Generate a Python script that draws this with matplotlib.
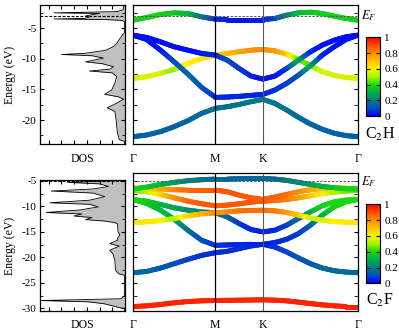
import numpy as np
import matplotlib
matplotlib.use("Agg")
import matplotlib.pyplot as plt
from matplotlib.collections import LineCollection
from matplotlib.colors import LinearSegmentedColormap, Normalize
from matplotlib.cm import ScalarMappable
from matplotlib.ticker import MultipleLocator

plt.rcParams['font.family'] = ['Liberation Serif', 'DejaVu Serif']
plt.rcParams['mathtext.fontset'] = 'stix'

# k-path (Gamma - M - K - Gamma), positions of the sampled points
k = [0, 0.144, 0.289, 0.433, 0.577, 0.722, 0.866,
     0.991, 1.116, 1.241, 1.366,
     1.491, 1.616, 1.741, 1.866, 1.991, 2.116, 2.241, 2.366]
k_ticks = [0, 0.866, 1.366, 2.366]
k_labels = ['Γ', 'M', 'K', 'Γ']

# ---- C2H bands (energy, weight) ----------------------------------------
ch_e = {
    'a':  [-22.72, -22.45, -21.90, -21.09, -20.11, -18.91, -18.10, -17.83, -17.45, -17.01, -16.63,
           -17.28, -18.37, -19.57, -20.65, -21.52, -22.17, -22.55, -22.72],
    'y':  [-13.21, -12.93, -12.39, -11.74, -10.76, -9.95, -9.40, -9.13, -8.86, -8.59, -8.48,
           -8.70, -9.24, -10.11, -11.14, -12.12, -12.72, -13.04, -13.21],
    'c1': [-6.14, -6.52, -7.23, -8.04, -8.59, -9.13, -9.40, -10.22, -11.58, -12.83, -13.32,
           -12.83, -11.58, -10.22, -8.86, -7.77, -6.96, -6.41, -6.14],
    'c2': [-6.14, -6.85, -8.59, -10.49, -12.50, -14.67, -16.30, -16.25, -16.14, -15.98, -15.82,
           -15.11, -14.02, -12.66, -11.14, -9.40, -8.04, -6.85, -6.14],
    'b':  [-3.70, -3.26, -2.77, -2.50, -2.61, -3.15, -3.53, -3.59, -3.59, -3.59, -3.59,
           -3.42, -2.88, -2.50, -2.39, -2.61, -3.04, -3.42, -3.70],
}
ch_w = {
    'a':  [0.14, 0.14, 0.14, 0.14, 0.15, 0.16, 0.17, 0.17, 0.18, 0.18, 0.19,
           0.18, 0.17, 0.16, 0.15, 0.14, 0.14, 0.14, 0.14],
    'y':  [0.55, 0.56, 0.56, 0.48, 0.60, 0.63, 0.66, 0.70, 0.74, 0.78, 0.80,
           0.78, 0.70, 0.45, 0.45, 0.55, 0.55, 0.55, 0.55],
    'c1': [0.02, 0.02, 0.02, 0.02, 0.02, 0.03, 0.05, 0.10, 0.08, 0.05, 0.03,
           0.03, 0.05, 0.30, 0.05, 0.02, 0.02, 0.02, 0.02],
    'c2': [0.02, 0.02, 0.02, 0.10, 0.15, 0.12, 0.06, 0.05, 0.05, 0.05, 0.05,
           0.06, 0.08, 0.10, 0.30, 0.05, 0.03, 0.02, 0.02],
    'b':  [0.38, 0.38, 0.38, 0.36, 0.33, 0.20, 0.06, 0.04, 0.03, 0.03, 0.04,
           0.08, 0.20, 0.32, 0.36, 0.38, 0.38, 0.38, 0.38],
}

# ---- C2F bands ----------------------------------------------------------
cf_e = {
    'p8': [-29.63, -29.49, -29.23, -28.90, -28.64, -28.51, -28.44, -28.41, -28.38, -28.35, -28.31,
           -28.38, -28.51, -28.77, -29.04, -29.30, -29.49, -29.63, -29.63],
    'p7': [-23.00, -22.74, -22.08, -21.23, -20.37, -19.59, -19.06, -18.80, -18.27, -17.75, -17.42,
           -17.95, -18.93, -20.11, -21.23, -22.08, -22.61, -22.87, -23.00],
    'p6': [-8.63, -9.42, -10.73, -12.50, -14.67, -16.63, -17.62, -17.55, -17.49, -17.42, -17.42,
           -17.09, -16.44, -15.32, -13.67, -11.71, -10.07, -9.09, -8.63],
    'p4': [-8.63, -8.96, -9.61, -10.27, -10.73, -11.06, -11.25, -12.04, -13.35, -14.53, -14.99,
           -14.67, -13.67, -12.36, -11.06, -9.88, -9.09, -8.76, -8.63],
    'p5': [-13.16, -13.02, -12.76, -12.37, -11.84, -11.45, -11.25, -11.06, -10.86, -10.79, -10.73,
           -10.86, -11.19, -11.71, -12.24, -12.70, -12.96, -13.09, -13.16],
    'p3': [-6.86, -7.12, -7.64, -8.30, -8.96, -9.48, -9.88, -9.74, -9.48, -9.15, -8.96,
           -8.83, -8.63, -8.30, -7.91, -7.51, -7.19, -6.99, -6.86],
    'p2': [-6.33, -6.46, -6.59, -6.73, -6.79, -6.79, -6.79, -7.12, -7.78, -8.30, -8.63,
           -8.17, -7.64, -7.12, -6.73, -6.46, -6.40, -6.33, -6.33],
    'p1': [-6.59, -6.20, -5.68, -5.28, -4.95, -4.76, -4.63, -4.63, -4.56, -4.50, -4.50,
           -4.63, -4.89, -5.28, -5.68, -6.07, -6.33, -6.53, -6.59],
}
cf_w = {
    'p8': [0.95] * 19,
    'p7': [0.16, 0.15, 0.13, 0.11, 0.09, 0.07, 0.06, 0.06, 0.06, 0.06, 0.06,
           0.07, 0.09, 0.11, 0.13, 0.15, 0.16, 0.16, 0.16],
    'p6': [0.40, 0.37, 0.33, 0.30, 0.18, 0.10, 0.07, 0.06, 0.05, 0.05, 0.05,
           0.05, 0.06, 0.08, 0.12, 0.30, 0.38, 0.40, 0.40],
    'p4': [0.40, 0.38, 0.33, 0.28, 0.24, 0.22, 0.20, 0.15, 0.08, 0.05, 0.05,
           0.05, 0.08, 0.15, 0.30, 0.38, 0.40, 0.40, 0.40],
    'p5': [0.62, 0.62, 0.60, 0.50, 0.65, 0.72, 0.78, 0.80, 0.83, 0.85, 0.85,
           0.83, 0.78, 0.70, 0.55, 0.55, 0.60, 0.62, 0.62],
    'p3': [0.45, 0.50, 0.65, 0.78, 0.85, 0.88, 0.88, 0.88, 0.88, 0.88, 0.88,
           0.86, 0.83, 0.78, 0.70, 0.60, 0.52, 0.47, 0.45],
    'p2': [0.62, 0.65, 0.72, 0.80, 0.85, 0.87, 0.88, 0.88, 0.88, 0.88, 0.88,
           0.87, 0.85, 0.80, 0.75, 0.70, 0.66, 0.63, 0.62],
    'p1': [0.38, 0.36, 0.32, 0.27, 0.22, 0.18, 0.15, 0.15, 0.15, 0.15, 0.15,
           0.16, 0.18, 0.22, 0.26, 0.31, 0.35, 0.38, 0.38],
}

# ---- DOS (energy, dos) ----------------------------------------------------
ch_dos_e = [-1.3, -2.0, -2.3, -2.5, -2.6, -2.8, -3.0, -3.2, -3.4, -3.5, -3.6, -3.75, -4.0,
            -5.8, -6.1, -6.7, -7.5, -8.0, -8.6, -9.1, -9.3, -9.5, -9.9, -10.5, -10.8,
            -11.3, -11.7, -12.0, -12.3, -12.9, -14.0, -15.1, -15.8, -16.2, -16.6, -17.2,
            -18.0, -18.6, -20.0, -22.1, -23.2, -23.5, -24.1]
ch_dos = [0.1, 0.15, 0.6, 5.6, 2.0, 2.6, 3.1, 2.8, 3.2, 5.6, 1.5, 0.2, 0.05,
          0.05, 0.2, 0.4, 0.65, 0.9, 1.5, 3.1, 5.0, 2.6, 1.7, 3.1, 1.8,
          0.9, 1.2, 2.8, 1.0, 0.66, 0.8, 1.05, 1.6, 0.55, 0.1, 0.6,
          1.4, 0.8, 0.7, 0.6, 0.45, 0.05, 0.03]
cf_dos_e = [-4.84, -5.0, -5.3, -5.6, -6.1, -6.6, -7.0, -7.4, -8.1, -8.8, -9.3, -9.6, -10.1,
            -10.7, -11.2, -11.5, -11.9, -12.2, -12.6, -12.9, -13.2, -13.4, -15.0, -15.6,
            -16.3, -16.6, -17.3, -17.8, -18.6, -19.3, -20.6, -22.5, -23.2, -23.5, -27.5,
            -28.1, -28.45, -28.7, -29.1, -29.8, -30.0, -30.5]
cf_dos = [0.3, 1.0, 4.5, 2.0, 1.3, 2.5, 5.8, 2.5, 1.6, 2.8, 5.9, 2.8, 2.1,
          3.5, 6.2, 3.4, 4.0, 2.6, 3.1, 1.5, 0.8, 0.6, 0.55, 0.4,
          0.6, 0.55, 1.2, 0.45, 1.2, 0.95, 0.8, 0.75, 0.5, 0.05, 0.05,
          0.3, 6.6, 2.9, 1.6, 0.5, 0.05, 0.03]

ef_ch = -3.0
ef_cf = -5.0

cmap = LinearSegmentedColormap.from_list('weight', [
    (0.0, (0.0, 0.0, 1.0)), (0.1, (0.0, 0.3, 0.75)), (0.2, (0.0, 0.5, 0.5)),
    (0.3, (0.0, 0.68, 0.3)), (0.4, (0.1, 0.85, 0.05)), (0.5, (0.65, 0.95, 0.0)),
    (0.6, (1.0, 0.95, 0.0)), (0.7, (1.0, 0.75, 0.0)), (0.8, (1.0, 0.55, 0.0)),
    (0.9, (1.0, 0.3, 0.0)), (1.0, (1.0, 0.0, 0.0))])
norm = Normalize(0, 1)


def colored_band(ax, e, w, n=8):
    segs, cols = [], []
    for i in range(len(k) - 1):
        f = np.linspace(0, 1, n + 1)
        kk = k[i] + (k[i + 1] - k[i]) * f
        ee = e[i] + (e[i + 1] - e[i]) * f
        ww = w[i] + (w[i + 1] - w[i]) * f
        for j in range(n):
            segs.append([[kk[j], ee[j]], [kk[j + 1], ee[j + 1]]])
            cols.append(0.5 * (ww[j] + ww[j + 1]))
    lc = LineCollection(segs, cmap=cmap, norm=norm, linewidths=3.6, capstyle='round')
    lc.set_array(np.array(cols))
    ax.add_collection(lc)


def panel(fig, y0, h_dos, h_band, ylim_dos, ylim_band, ef, bands_e, bands_w,
          dos_e, dos, cbar_rect, name, name_y, ef_y):
    W, H = 399.0, 333.0
    # DOS
    ax = fig.add_axes([39.5 / W, 1 - y0 / H, 85.5 / W, h_dos / H])
    ax.fill_betweenx(dos_e, 0, dos, color='#c0c0c0', lw=0)
    ax.plot(dos, dos_e, color='k', lw=0.6)
    ax.axhline(ef, color='k', ls='--', lw=0.8, dashes=(2.5, 1.5))
    ax.set_xlim(6.73, 0)
    ax.set_ylim(*ylim_dos)
    ax.xaxis.set_major_locator(MultipleLocator(1))
    ax.yaxis.set_major_locator(MultipleLocator(5))
    ax.yaxis.set_minor_locator(MultipleLocator(2.5))
    ax.tick_params(which='both', direction='in', top=True, right=True, labelbottom=False,
                   labelsize=8, pad=2)
    ax.tick_params(which='major', length=3)
    ax.tick_params(which='minor', length=2)
    ax.set_xlabel('DOS', fontsize=8.5, labelpad=6)
    ax.set_ylabel('Energy (eV)', fontsize=8.5, labelpad=4.5)
    yt = [t for t in np.arange(-30, 0, 5) if ylim_dos[0] <= t <= ylim_dos[1]]
    ax.set_yticks(yt)
    ax.set_yticklabels([str(int(t)) for t in yt])
    for s in ax.spines.values():
        s.set_linewidth(0.9)

    # bands
    bx = fig.add_axes([133 / W, 1 - y0 / H, 225 / W, h_band / H])
    for key in bands_e:
        colored_band(bx, bands_e[key], bands_w[key])
    bx.axvline(k_ticks[1], color='k', lw=0.9)
    bx.axvline(k_ticks[2], color='0.35', lw=0.8)
    bx.axhline(ef, color='0.35', ls='--', lw=0.7, dashes=(2.5, 1.5))
    bx.set_xlim(0, k[-1])
    bx.set_ylim(*ylim_band)
    bx.set_xticks(k_ticks)
    bx.set_xticklabels(k_labels, fontsize=8.5)
    bx.tick_params(axis='x', length=0, pad=6)
    bx.yaxis.set_major_locator(MultipleLocator(5))
    bx.yaxis.set_minor_locator(MultipleLocator(2.5))
    bx.tick_params(axis='y', which='both', direction='in', left=True, right=True,
                   labelleft=False, length=3)
    for s in bx.spines.values():
        s.set_linewidth(0.9)

    # colorbar
    cax = fig.add_axes([365.7 / W, 1 - cbar_rect[1] / H, 14.3 / W, cbar_rect[0] / H])
    cb = fig.colorbar(ScalarMappable(norm=norm, cmap=cmap), cax=cax)
    cb.set_ticks([0, 0.2, 0.4, 0.6, 0.8, 1])
    cb.set_ticklabels(['0', '0.2', '0.4', '0.6', '0.8', '1'])
    cax.tick_params(direction='in', left=True, right=True, length=3, width=0.8,
                    labelsize=8, pad=3)
    cb.outline.set_linewidth(0.8)

    fig.text(361 / W, 1 - ef_y / H, r'$E_F$', fontsize=9, va='center', ha='left')
    fig.text(380 / W, 1 - name_y / H, name, fontsize=11.5, va='center', ha='center')


fig = plt.figure(figsize=(3.99, 3.33), dpi=100)

panel(fig, 144.5, 139, 139, (-24.0, -1.3), (-24.0, -1.3), ef_ch, ch_e, ch_w,
      ch_dos_e, ch_dos, (79, 116.3), r'C$_2$H', 134, 16)
panel(fig, 311, 131, 137.7, (-30.5, -4.84), (-30.5, -3.5), ef_cf, cf_e, cf_w,
      cf_dos_e, cf_dos, (79, 283.3), r'C$_2$F', 300, 182)

fig.savefig('out.png', dpi=100)
